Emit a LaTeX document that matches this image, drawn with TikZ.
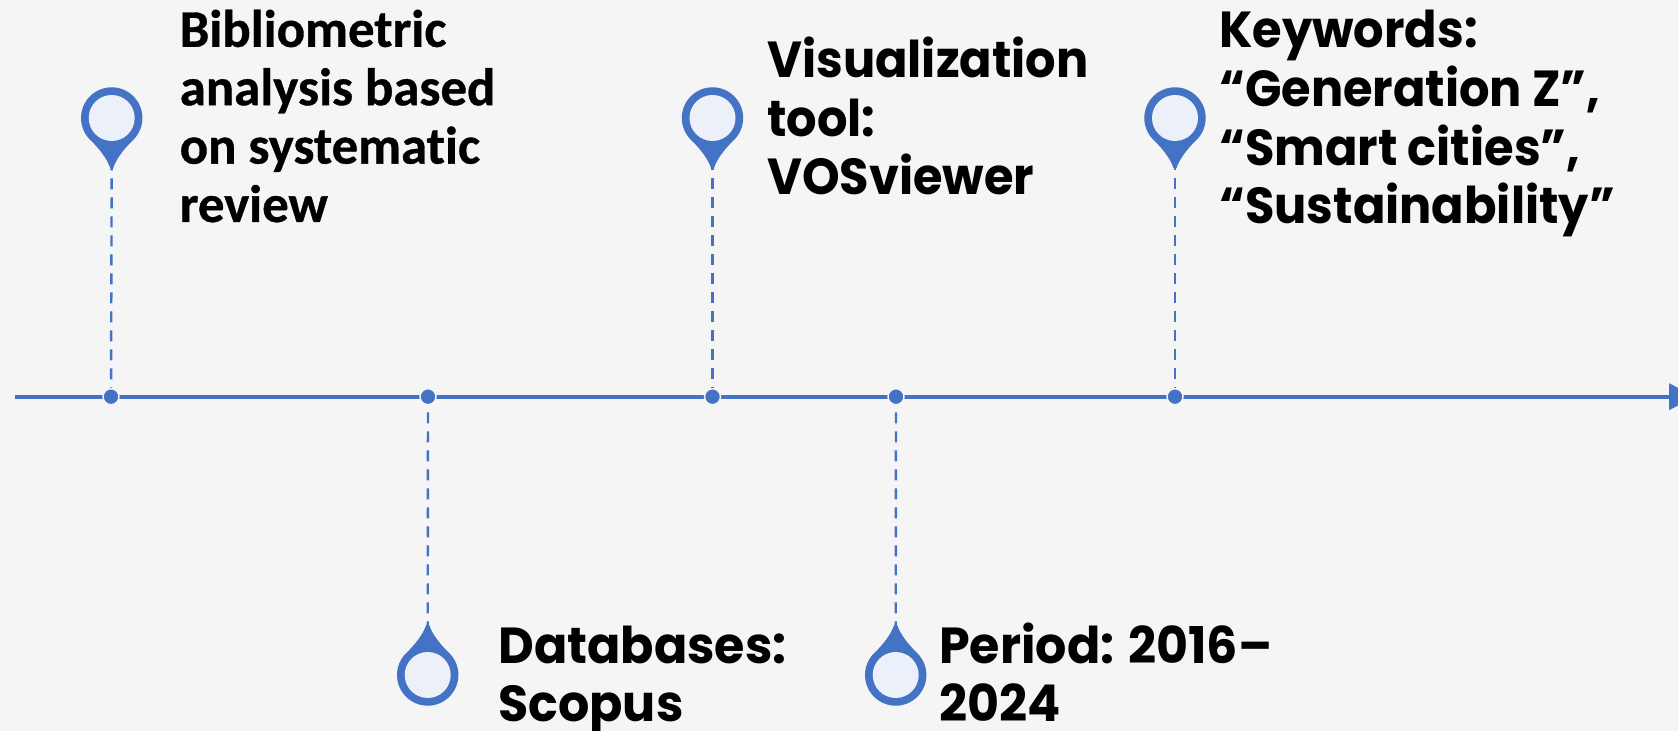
\documentclass[tikz,border=0pt]{standalone}
\usepackage{fontspec}
\usetikzlibrary{arrows.meta}
\setmainfont{Carlito}
\newfontfamily\calfont[FakeBold=0.7,Ligatures=NoCommon]{Carlito Bold}
\newfontfamily\geofont[FakeStretch=0.97]{Poppins}
\newfontfamily\geofontn[FakeStretch=0.945]{Poppins}
\definecolor{pinblue}{HTML}{4472C4}
\definecolor{pinface}{HTML}{EBF0F9}
\definecolor{paper}{HTML}{F5F5F5}
\tikzset{
  x=.75pt,y=.75pt,
  mappin/.pic={
    \fill[pinblue] (225:30.7) arc[start angle=225,end angle=-45,radius=30.7]
      .. controls (12,-31) and (4.5,-41) .. (1.5,-50) -- (-1.5,-50)
      .. controls (-4.5,-41) and (-12,-31) .. (225:30.7) -- cycle;
    \fill[pinface] (0,0) circle[radius=23];
    \coordinate (-tip) at (0,-48);
  },
  axisline/.style={draw=pinblue,line width=3pt,-{Triangle[length=19.5pt,width=19.5pt]}},
  stem/.style={draw=pinblue,line width=1.8pt,dash pattern=on 8.25pt off 6pt},
  dot/.style={circle,fill=pinblue,draw=paper,line width=1.1pt,minimum size=12pt,inner sep=0pt},
  calbl/.style={font=\calfont\fontsize{39.6}{43.8}\selectfont,align=left,inner sep=0pt,anchor=base west,text=black},
  geolbl/.style={font=\geofont\bfseries\fontsize{38}{44}\selectfont,align=left,inner sep=0pt,anchor=base west,text=black},
  geonarrow/.style={font=\geofontn\bfseries\fontsize{38}{44}\selectfont,align=left,inner sep=0pt,anchor=base west,text=black},
}
\begin{document}
\begin{tikzpicture}
\useasboundingbox (0,0) rectangle (1678,731);
\clip (0,0) rectangle (1678,731);
\fill[paper] (0,0) rectangle (1678,731);
\coordinate (axisL) at (14.7,334.3);
\coordinate (axisR) at (1695,334.3);
\draw[axisline] (axisL) -- (axisR);
\node[dot] (d1) at (111,334.3) {};
\node[dot] (d2) at (428,334.3) {};
\node[dot] (d3) at (712.5,334.3) {};
\node[dot] (d4) at (896,334.3) {};
\node[dot] (d5) at (1175,334.3) {};
\pic (p1) at (111.7,613) {mappin};
\pic (p3) at (712.5,613) {mappin};
\pic (p5) at (1175,613) {mappin};
\pic[rotate=180] (p2) at (427.7,56) {mappin};
\pic[rotate=180] (p4) at (895.7,56) {mappin};
\draw[stem,dash phase=5pt] (p1-tip) -- (d1);
\draw[stem,dash phase=5pt] (p3-tip) -- (d3);
\draw[stem,dash phase=5pt] (p5-tip) -- (d5);
\draw[stem,dash phase=4pt] (p2-tip) -- (d2);
\draw[stem,dash phase=4pt] (p4-tip) -- (d4);
\node[calbl] (t1) at (179.5,509) {Bibliometric\\analysis based\\on systematic\\review};
\node[geonarrow] (t3) at (767,536) {Visualization\\tool:\\VOSviewer};
\node[geonarrow] (t5) at (1219,507) {Keywords:\\“Generation Z”,\\“Smart cities”,\\“Sustainability”};
\node[geolbl] (t2) at (498,9) {Databases:\\Scopus};
\node[geolbl] (t4) at (939,9) {Period: 2016–\\2024};
\end{tikzpicture}
\end{document}
